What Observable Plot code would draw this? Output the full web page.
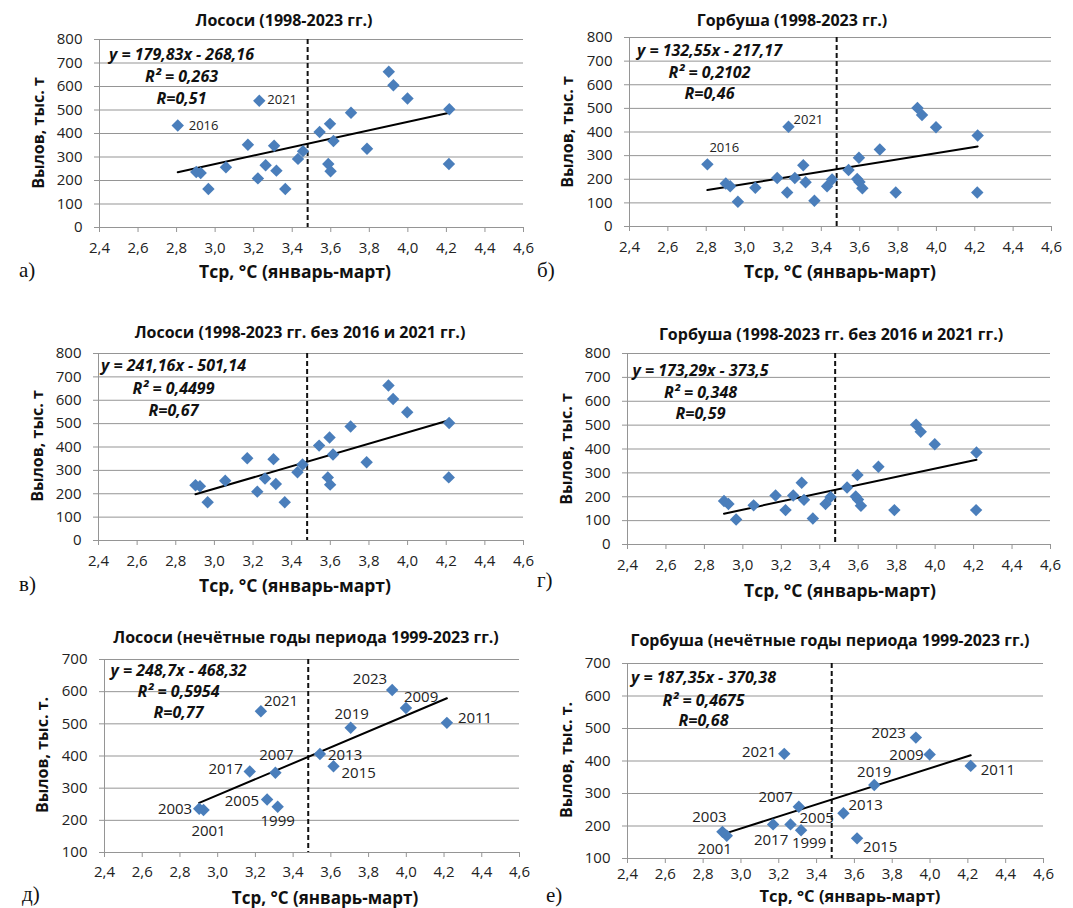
<!DOCTYPE html>
<html><head><meta charset="utf-8">
<script src="https://cdn.jsdelivr.net/npm/d3@7"></script>
<script src="https://cdn.jsdelivr.net/npm/@observablehq/plot@0.6"></script>
<style>
body{margin:0;background:#fff;}
#chart{position:relative;width:1073px;height:908px;overflow:hidden;font-family:"Open Sans",sans-serif;background:#fff;}
.t{position:absolute;white-space:nowrap;color:#111;line-height:1;}
.title{font-weight:700;font-size:16px;transform:translate(-50%,-50%);}
.xt{font-weight:700;font-size:17.5px;transform:translate(-50%,-50%);}
.xt.small{font-size:17px;}
.xt.smaller{font-size:16.5px;}
.yt{font-weight:700;font-size:16px;transform:translate(-50%,-50%) rotate(-90deg);}
.let{font-family:"Liberation Serif",serif;font-size:21px;transform:translateY(-50%);}
.p{position:absolute;}
</style></head><body><div id="chart"></div>
<script>
// ---------------- DATA ----------------
const oddYears   = [1999, 2001, 2003, 2005, 2007, 2009, 2011, 2013, 2015, 2017, 2019, 2021, 2023];
const oddTemp    = [3.318, 2.925, 2.902, 3.262, 3.306, 3.998, 4.215, 3.542, 3.614, 3.170, 3.705, 3.229, 3.925];
const oddSalmon  = [242, 232, 236, 265, 348, 549, 503, 406, 368, 352, 488, 539, 605];
const oddPink    = [187, 170, 182, 205, 259, 420, 385, 239, 162, 205, 326, 422, 472];
// even years: only 2016 is identified in the picture
const evenYears  = [2016, null, null, null, null, null, null, null, null, null, null, null, null];
const evenTemp   = [2.806, 2.965, 3.056, 3.222, 3.364, 3.430, 3.456, 3.587, 3.596, 3.599, 3.788, 3.901, 4.213];
const evenSalmon = [434, 164, 256, 209, 164, 292, 325, 270, 441, 239, 335, 663, 270];
const evenPink   = [263, 105, 164, 144, 109, 170, 199, 201, 291, 188, 144, 502, 144];
const thresholdTemp = 3.48;
const xTicks     = [2.4, 2.6, 2.8, 3.0, 3.2, 3.4, 3.6, 3.8, 4.0, 4.2, 4.4, 4.6];
const yTicks800  = [0, 100, 200, 300, 400, 500, 600, 700, 800];
const yTicks700  = [100, 200, 300, 400, 500, 600, 700];
const panelTitles = [
  "Лососи (1998-2023 гг.)",
  "Горбуша (1998-2023 гг.)",
  "Лососи (1998-2023 гг. без 2016 и 2021 гг.)",
  "Горбуша (1998-2023 гг. без 2016 и 2021 гг.)",
  "Лососи (нечётные годы периода 1999-2023 гг.)",
  "Горбуша (нечётные годы периода 1999-2023 гг.)"
];
const equations = [
  ["y = 179,83x - 268,16", "R² = 0,263", "R=0,51"],
  ["y = 132,55x - 217,17", "R² = 0,2102", "R=0,46"],
  ["y = 241,16x - 501,14", "R² = 0,4499", "R=0,67"],
  ["y = 173,29x - 373,5", "R² = 0,348", "R=0,59"],
  ["y = 248,7x - 468,32", "R² = 0,5954", "R=0,77"],
  ["y = 187,35x - 370,38", "R² = 0,4675", "R=0,68"]
];
const panelLetters = ["а)", "б)", "в)", "г)", "д)", "е)"];
const yTitles = ["Вылов, тыс. т", "Вылов, тыс. т", "Вылов, тыс. т", "Вылов, тыс. т", "Вылов, тыс. т.", "Вылов, тыс. т."];
const xTitle = "Тср, °С (январь-март)";

// ---------------- tables ----------------
const odd = oddYears.map((y, i) => ({year: y, temp: oddTemp[i], salmon: oddSalmon[i], pink: oddPink[i]}));
const even = evenYears.map((y, i) => ({year: y, temp: evenTemp[i], salmon: evenSalmon[i], pink: evenPink[i]}));
const all = odd.concat(even);
const noOutliers = all.filter(d => d.year !== 2016 && d.year !== 2021);

// ---------------- layout (styles / positions) ----------------
const L = {
  a: {lab: {2016: ["start", 11, 0], 2021: ["start", 8, -1]}, fs: 13},
  b: {lab: {2016: ["start", 2, -17], 2021: ["start", 5, -7]}, fs: 13},
  d: {lab: {2003:["end",-7,0],2001:["middle",5,21],2017:["end",-7,-2],2021:["start",3,-10],2005:["end",-8,2],2007:["middle",1,-18],1999:["middle",0,14],2013:["start",8,1],2015:["start",8,7],2019:["middle",1,-14],2023:["end",-5,-11],2009:["start",-2,-11],2011:["start",11,-5]}, fs: 15},
  e: {lab: {2003:["middle",-13,-15],2001:["middle",-12,13],2021:["end",-8,-2],2017:["middle",-2,16],2005:["start",9,-6],2007:["end",-6,-10],1999:["middle",8,13],2013:["start",5,-8],2015:["start",6,9],2019:["middle",0,-13],2023:["end",-10,-4],2009:["end",-6,1],2011:["start",10,4]}, fs: 15}
};

const panels = [
  {data: all, key: "salmon", yDomain: [0, 800], yTicks: yTicks800, col: 0, T: 0, H: 300, x0: 99, x1: 523, yT: 39, yB: 227, lab: L.a, eq: [82, 15, 37, 59], tp: 10,
   title: [284, 20], xt: [295, 272], yt: [38, 133], letter: [19, 270]},
  {data: all, key: "pink", yDomain: [0, 800], yTicks: yTicks800, col: 1, T: 0, H: 300, x0: 629, x1: 1051, yT: 37, yB: 226, lab: L.b, eq: [80, 13, 35, 56], tp: 10,
   title: [792, 20], xt: [840, 272], yt: [567, 132], letter: [537, 270]},
  {data: noOutliers, key: "salmon", yDomain: [0, 800], yTicks: yTicks800, col: 0, T: 300, H: 310, x0: 98, x1: 523, yT: 353, yB: 540, lab: null, eq: [75, 12, 35, 57], tp: 10,
   title: [300, 332], xt: [295, 586], yt: [37, 446], letter: [19, 584]},
  {data: noOutliers, key: "pink", yDomain: [0, 800], yTicks: yTicks800, col: 1, T: 300, H: 310, x0: 627, x1: 1050, yT: 353, yB: 544, lab: null, eq: [73, 17, 39, 60], tp: 10,
   title: [831, 334], xt: [840, 591], yt: [566, 449], letter: [537, 580]},
  {data: odd, key: "salmon", yDomain: [100, 700], yTicks: yTicks700, col: 0, T: 610, H: 298, x0: 104, x1: 519, yT: 659, yB: 852, lab: L.d, eq: [74, 11, 32, 53], tp: 9,
   title: [306, 637], xt: [325, 897], yt: [42, 755], letter: [22, 894], xcls: "small"},
  {data: odd, key: "pink", yDomain: [100, 700], yTicks: yTicks700, col: 1, T: 610, H: 298, x0: 627, x1: 1043, yT: 663, yB: 858, lab: L.e, eq: [76, 14, 37, 57], tp: 5,
   title: [830, 640], xt: [850, 896], yt: [566, 760], letter: [546, 895], xcls: "smaller"}
];

const fmtX = d => d.toFixed(1).replace(".", ",");
const grid = "#959595";
const chart = document.getElementById("chart");

function addText(cls, txt, x, y) {
  const el = document.createElement("div");
  el.className = "t " + cls;
  el.textContent = txt;
  el.style.left = x + "px";
  el.style.top = y + "px";
  chart.appendChild(el);
}

panels.forEach((p, i) => {
  const Lx = p.col === 0 ? 0 : 530;
  const W = p.col === 0 ? 530 : 543;
  const marks = [
    Plot.gridY(p.yTicks, {stroke: grid, strokeOpacity: 1}),
    Plot.ruleX([xTicks[0]], {stroke: grid}),
    Plot.ruleY([p.yDomain[0]], {stroke: grid}),
    Plot.axisX(xTicks, {tickSize: 5, tickPadding: p.tp, tickFormat: fmtX, stroke: grid, fill: "#222", fontSize: 15, label: null}),
    Plot.axisY(p.yTicks, {tickSize: 5, tickPadding: 12, stroke: grid, fill: "#222", fontSize: 15, label: null}),
    Plot.ruleX([thresholdTemp], {stroke: "#111", strokeWidth: 2, strokeDasharray: "5,3"}),
    Plot.linearRegressionY(p.data, {x: "temp", y: p.key, stroke: "#000", strokeWidth: 2, ci: 0}),
    Plot.dot(p.data, {x: "temp", y: p.key, symbol: "diamond2", r: 5.6, fill: "#4a7ebb", stroke: "none"})
  ];
  if (p.lab) {
    for (const [yr, [anchor, dx, dy]] of Object.entries(p.lab.lab)) {
      marks.push(Plot.text(p.data.filter(d => d.year === +yr), {
        x: "temp", y: p.key, text: d => String(d.year), textAnchor: anchor, dx, dy,
        fontSize: p.lab.fs, fill: "#222"
      }));
    }
  }
  equations[i].forEach((line, k) => {
    marks.push(Plot.text([line], {
      text: d => d, frameAnchor: "top-left", lineAnchor: "middle", dx: p.eq[0], dy: p.eq[k + 1], textAnchor: "middle",
      fontWeight: "bold", fontStyle: "italic", fontSize: 16, fill: "#111"
    }));
  });
  const svg = Plot.plot({
    width: W, height: p.H,
    marginLeft: p.x0 - Lx, marginRight: Lx + W - p.x1,
    marginTop: p.yT - p.T, marginBottom: p.T + p.H - p.yB,
    style: {background: "transparent", fontFamily: "Open Sans", fontSize: "15px", overflow: "visible", maxWidth: "none"},
    x: {type: "linear", domain: [2.4, 4.6]},
    y: {type: "linear", domain: p.yDomain},
    marks
  });
  svg.classList.add("p");
  svg.style.left = Lx + "px";
  svg.style.top = p.T + "px";
  chart.appendChild(svg);

  addText("title", panelTitles[i], p.title[0], p.title[1]);
  addText("xt" + (p.xcls ? " " + p.xcls : ""), xTitle, p.xt[0], p.xt[1]);
  addText("yt", yTitles[i], p.yt[0], p.yt[1]);
  addText("let", panelLetters[i], p.letter[0], p.letter[1]);
});
</script></body></html>
